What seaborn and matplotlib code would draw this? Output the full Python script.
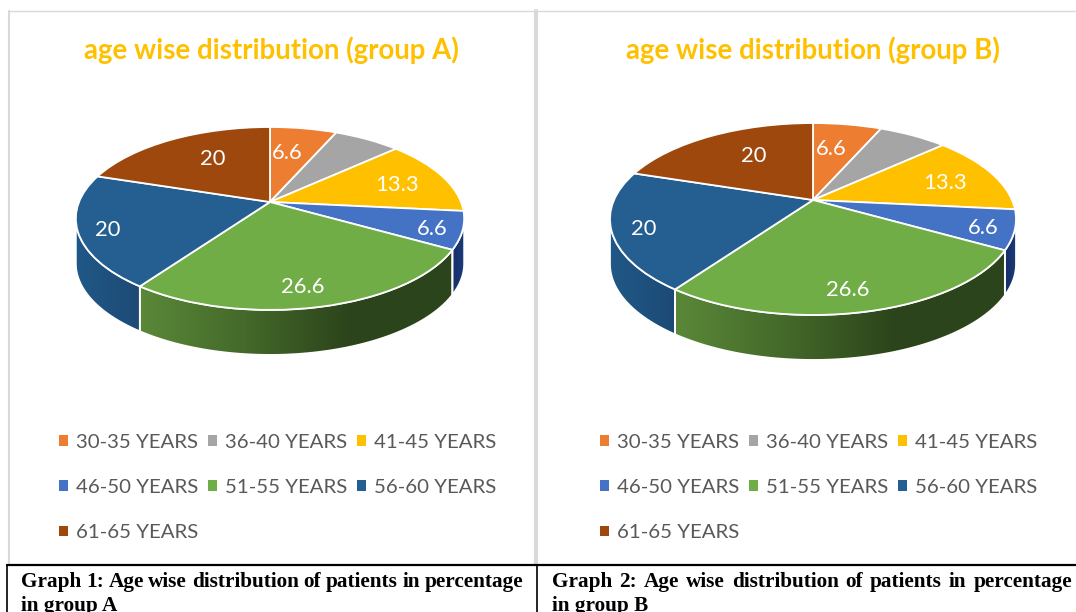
import numpy as np
import seaborn as sns
import matplotlib
matplotlib.use("Agg")
import matplotlib.pyplot as plt
from matplotlib.colors import LinearSegmentedColormap
from matplotlib.lines import Line2D
from matplotlib.patches import Patch, Polygon
from matplotlib.transforms import Transform

# dati
age_groups = ["30-35 YEARS", "36-40 YEARS", "41-45 YEARS", "46-50 YEARS",
              "51-55 YEARS", "56-60 YEARS", "61-65 YEARS"]
group_a = [6.6, 6.6, 13.3, 6.6, 26.6, 20, 20]
group_b = [6.6, 6.6, 13.3, 6.6, 26.6, 20, 20]
labels_shown = ["6.6", "", "13.3", "6.6", "26.6", "20", "20"]

W, H = 1076, 612

sns.set_theme(style="white")
plt.rcParams["font.family"] = ["Lato", "DejaVu Sans"]
palette = sns.color_palette(["#ED7D31", "#A5A5A5", "#FFC000", "#4472C4", "#70AD47", "#255E91", "#9E480E"])

wall_cmaps = {
    3: LinearSegmentedColormap.from_list("w3", ["#16306a", "#1a3a78"]),
    4: LinearSegmentedColormap.from_list("w4", ["#5a8838", "#44692a", "#2c441b", "#2c441b"]),
    5: LinearSegmentedColormap.from_list("w5", ["#205887", "#1d4a75"]),
}


# prospettiva del disco: il fondo appare piu grande della parte alta
class Persp(Transform):
    input_dims = 2
    output_dims = 2

    def __init__(self, cx, cy, a, s, k):
        super().__init__()
        self.cx, self.cy, self.a, self.s, self.k = cx, cy, a, s, k

    def transform_non_affine(self, xy):
        xy = np.asarray(xy)
        w = 1 + self.k * xy[:, 1]
        return np.column_stack([self.cx + self.a * xy[:, 0] / w, self.cy - self.s * xy[:, 1] / w])


def draw_panel(box, values, title, title_x, geom, depth, legend_x):
    x0, x1, y0, y1 = box
    ax = fig.add_axes([x0 / W, 1 - y1 / H, (x1 - x0) / W, (y1 - y0) / H])
    wedges, _ = ax.pie(values, colors=palette, startangle=90, counterclock=False,
                       wedgeprops={"edgecolor": "white", "linewidth": 1.3})
    ax.set_aspect("auto")
    ax.set_xlim(x0, x1)
    ax.set_ylim(y1, y0)
    persp = Persp(*geom)
    k = geom[4]
    lim = np.degrees(np.arcsin(k))

    # fianco del disco
    for i, w in enumerate(wedges):
        t1 = max(w.theta1, -180 + lim)
        t2 = min(w.theta2, -lim)
        if t2 <= t1:
            continue
        t = np.radians(np.linspace(t1, t2, 80))
        rim = persp.transform_non_affine(np.column_stack([np.cos(t), np.sin(t)]))
        low = rim + [0, depth]
        pts = np.vstack([rim, low[::-1]])
        poly = Polygon(pts, closed=True, facecolor="none", edgecolor="white", linewidth=1.3, zorder=1)
        ax.add_patch(poly)
        grad = np.linspace(0, 1, 256)[None, :]
        ax.imshow(grad, cmap=wall_cmaps[i], aspect="auto", zorder=0.9, clip_path=poly,
                  extent=[pts[:, 0].min(), pts[:, 0].max(), pts[:, 1].max(), pts[:, 1].min()])
    ax.set_xlim(x0, x1)
    ax.set_ylim(y1, y0)

    # superficie superiore
    for w in wedges:
        w.set_transform(persp + ax.transData)
        w.set_zorder(2)

    # posizione delle etichette dentro le fette
    radius = [0.67, 0, 0.73, 0.85, 0.81, 0.85, 0.66]
    shift = [3, 0, 0, 0, -2, 0, -6]
    for w, lab, r, d in zip(wedges, labels_shown, radius, shift):
        if not lab:
            continue
        mid = np.radians((w.theta1 + w.theta2) / 2 + d)
        p = persp.transform_non_affine(np.array([[r * np.cos(mid), r * np.sin(mid)]]))[0]
        ax.text(p[0], p[1] + 3, lab, color="white", fontsize=15.8, ha="center", va="center", zorder=3)

    ax.text(title_x, 50, title, color="#FFC000", fontsize=19.9, fontweight="bold",
            ha="center", va="center")

    # legenda: riga per riga
    handles = [Patch(facecolor=c, edgecolor="none") for c in palette]
    order = [0, 3, 6, 1, 4, 2, 5]
    ax.legend([handles[i] for i in order], [age_groups[i] for i in order], ncol=3,
              loc="upper left", bbox_to_anchor=(legend_x, 434), bbox_transform=ax.transData,
              frameon=False, fontsize=14.7, labelcolor="#595959", handlelength=0.44, handleheight=0.44,
              handletextpad=0.4, columnspacing=0.46, labelspacing=1.38, borderpad=0, borderaxespad=0)
    ax.set_zorder(1)
    ax.patch.set_visible(False)
    return ax


def justified(ax, words, x_left, x_right, y):
    items = [ax.text(x_left, y, w, fontfamily="Liberation Serif", fontweight="bold", fontsize=15.3,
                     color="black", va="center", ha="left") for w in words]
    fig.canvas.draw()
    rend = fig.canvas.get_renderer()
    widths = [t.get_window_extent(rend).width for t in items]
    gap = (x_right - x_left - sum(widths)) / (len(words) - 1)
    x = x_left
    for t, wd in zip(items, widths):
        t.set_x(x)
        x += wd + gap


fig = plt.figure(figsize=(W / 100, H / 100), dpi=100, facecolor="white")

bg = fig.add_axes([0, 0, 1, 1])
bg.set_xlim(0, W)
bg.set_ylim(H, 0)
bg.axis("off")

# cornici
for xs, ys, c, lw in [
    ([9, 9], [11, 563], "#d9d9d9", 1.5),
    ([9, W], [11, 11], "#d9d9d9", 1.0),
    ([535.5, 535.5], [11, 563], "#d9d9d9", 3.0),
    ([7, W], [565, 565], "black", 1.6),
    ([7, 7], [565, H], "black", 1.2),
    ([537, 537], [565, H], "black", 1.2),
]:
    bg.add_line(Line2D(xs, ys, color=c, linewidth=lw))

draw_panel((10, 534, 12, 563), group_a, "age wise distribution (group A)", 271.5,
           (270, 202, 191, 88.5, 0.18), 45, 59)
draw_panel((539, W, 12, 563), group_b, "age wise distribution (group B)", 812.5,
           (813, 200, 199, 92.2, 0.198), 45, 600)

justified(bg, "Graph 1: Age wise distribution of patients in percentage".split(), 21, 523, 582)
justified(bg, "Graph 2: Age wise distribution of patients in percentage".split(), 552, 1072, 582)
bg.text(21, 606, "in group A", fontfamily="Liberation Serif", fontweight="bold", fontsize=15.3,
        color="black", va="center", ha="left")
bg.text(552, 606, "in group B", fontfamily="Liberation Serif", fontweight="bold", fontsize=15.3,
        color="black", va="center", ha="left")

plt.savefig("out.png", dpi=100, facecolor="white")
